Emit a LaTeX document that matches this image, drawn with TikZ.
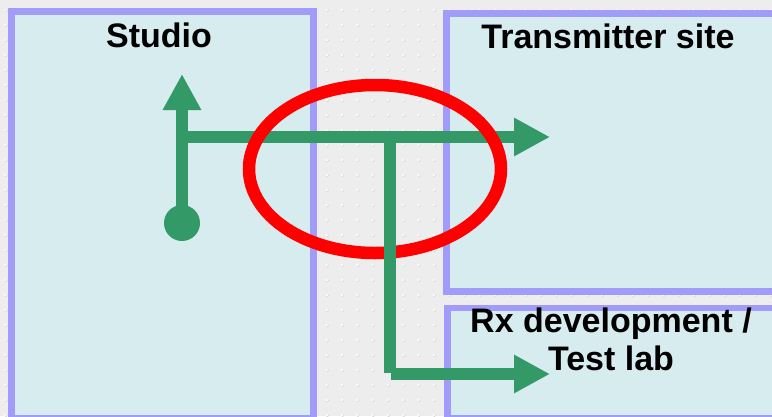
\documentclass[tikz,border=0pt]{standalone}
\usepackage{fontspec}
\setmainfont{Liberation Sans}
\usetikzlibrary{arrows.meta}
\definecolor{bgc}{HTML}{EDEDED}
\definecolor{dotsh}{HTML}{DADADA}
\definecolor{boxfill}{HTML}{D7ECEF}
\definecolor{boxline}{HTML}{A19BFA}
\definecolor{grn}{HTML}{339966}
\definecolor{redc}{HTML}{FF0000}
\begin{document}
\begin{tikzpicture}[x=1pt,y=-1pt,
  site/.style={draw=boxline, fill=boxfill, line width=6.5pt, inner sep=0pt, anchor=north west},
  lbl/.style={font=\fontsize{34}{38}\selectfont\bfseries, inner sep=0pt},
  wire/.style={draw=grn, line width=11.5pt},
  tipped/.style={-{Triangle[length=36pt,width=36pt]}},
  ring/.style={draw=redc, line width=12.5pt}
]
\useasboundingbox (0,0) rectangle (772,416);
\clip (0,0) rectangle (772,416);
\fill[bgc] (0,0) rectangle (772,416);
\foreach \i in {0,...,50} {
  \foreach \j in {0,...,27} {
    \fill[dotsh] ({6.0+15.3*\i},{10.6+15*\j}) circle (1.7);
    \fill[white] ({5.4+15.3*\i},{10+15*\j}) circle (1.3);
  }
}
% site boxes
\node[site, minimum width=302pt, minimum height=407pt] (studio) at (8,8) {};
\node[site, minimum width=336pt, minimum height=278pt] (tx) at (443,10) {};
\node[site, minimum width=335pt, minimum height=110.5pt] (rx) at (444,304.5) {};
% labels
\node[lbl, anchor=base] (studiolbl) at (159,47) {Studio};
\node[lbl, anchor=base] (txlbl) at (608,48) {Transmitter site};
\node[lbl, anchor=center, align=center] (rxlbl) at (611,339) {Rx development /\\Test lab};
% green signal paths
\coordinate (src) at (182,223);
\coordinate (up) at (182,74);
\coordinate (bus) at (182,137);
\coordinate (txend) at (550,137);
\coordinate (tap) at (390,137);
\coordinate (bend) at (390,373);
\coordinate (rxstart) at (391,374);
\coordinate (rxend) at (550,374);
\draw[wire, tipped] (bus) -- (txend);
\draw[wire, tipped] (src) -- (up);
\node[circle, fill=grn, minimum size=36pt, inner sep=0pt] (srcdot) at (src) {};
% red highlight
\draw[ring] (375,169) ellipse [x radius=126, y radius=84];
% branch to Rx lab
\draw[wire] (tap) -- (bend);
\draw[wire, tipped] (rxstart) -- (rxend);
\end{tikzpicture}
\end{document}
